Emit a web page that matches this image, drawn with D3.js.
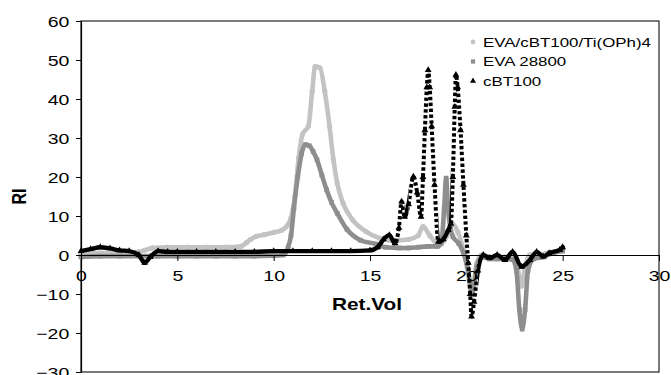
<!DOCTYPE html>
<html>
<head>
<meta charset="utf-8">
<script src="https://cdn.jsdelivr.net/npm/d3@7"></script>
<style>
  html, body { margin: 0; padding: 0; background: #fff; }
  svg { display: block; font-family: "Liberation Sans", Arial, sans-serif; }
</style>
</head>
<body>
<svg id="chart" width="671" height="375"></svg>
<script>
// GPC traces: retention volume (mL) vs refractive index signal
const evaTiVol = [0, 1, 2, 3, 3.3, 3.7, 4.5, 5.5, 6.5, 7.5, 8.3, 8.6, 8.8, 9.1, 9.5, 10.0, 10.4, 10.7, 10.9, 11.1,
  11.3, 11.5, 11.8, 12.0, 12.15, 12.4, 12.65, 12.9, 13.1, 13.3, 13.6, 14.1, 14.8, 15.5, 16.0, 16.5, 17.0, 17.5, 17.75, 18.1,
  18.4, 18.8, 19.0, 19.25, 19.55, 19.85, 20.05, 20.3, 20.55, 20.8, 21.2, 21.6, 22.0, 22.4, 22.65, 22.85, 23.05, 23.3, 23.7, 24.2,
  24.6, 25.0];
const evaTiRI = [0.3, 0.5, 0.5, 0.8, 1.2, 1.8, 2, 2, 2, 2, 2.2, 3.2, 4, 4.8, 5.2, 5.8, 6.3, 7.5, 9.5, 15,
  25, 31, 33, 42, 48.3, 48, 42, 33, 24.5, 18.4, 13.3, 9, 6, 4.3, 3.8, 3.8, 4, 5, 7.3, 5,
  3.4, 3.5, 5, 8.1, 6, 1.3, -3, -9, -2, 0, -0.5, -0.5, -0.5, -0.5, -3, -8, -3, 0, 0, 0.5,
  0.8, 1.3];

const evaVol = [0, 1, 2, 3, 4, 5, 6, 7, 8, 9, 10, 10.5, 10.75, 10.9, 11.05, 11.25, 11.45, 11.65, 11.85, 12.05,
  12.25, 12.5, 12.75, 13.0, 13.3, 13.8, 14.5, 15.3, 15.8, 16.5, 17.0, 17.5, 18.0, 18.5, 18.7, 18.85, 18.95, 19.05, 19.3, 19.6,
  19.85, 20.05, 20.3, 20.55, 20.8, 21.2, 21.6, 22.0, 22.4, 22.6, 22.75, 22.9, 23.05, 23.2, 23.5, 24.0, 24.5, 25.0];
const evaRI = [-0.5, -0.3, -0.3, -0.3, -0.3, -0.3, -0.3, -0.3, -0.3, -0.3, -0.2, 0, 2, 5, 12, 20, 26, 28.3, 28, 26.5,
  24.4, 20.5, 16.7, 13.5, 10.7, 6.6, 3.8, 2.8, 2, 1.8, 1.8, 2, 2.2, 2.2, 3, 12, 19.7, 12, 4.7, 3,
  0.5, -3, -10, -3, -0.5, -1, -1, -1, -1.2, -4, -14, -19, -14, -4, -1, -0.5, 0.5, 1];

const cbtVol = [0, 0.5, 1, 1.5, 2, 2.5, 3, 3.3, 3.6, 4, 4.5, 5, 6, 7, 8, 9, 10, 11, 12, 13,
  14, 15, 15.4, 15.7, 16.0, 16.3, 16.5, 16.64, 16.8, 17.0, 17.25, 17.45, 17.65, 17.75, 17.85, 17.95, 18.02, 18.1, 18.2, 18.35,
  18.55, 18.8, 19.06, 19.2, 19.3, 19.4, 19.46, 19.55, 19.7, 19.85, 20.0, 20.1, 20.2, 20.27, 20.4, 20.6, 20.88, 21.2, 21.6, 22.0,
  22.4, 22.87, 23.3, 23.65, 24.0, 24.3, 24.85, 25.0];
const cbtRI = [1, 1.5, 2, 1.7, 1.2, 1, 0, -2, -0.5, 1, 0.8, 0.8, 0.8, 0.8, 0.8, 0.8, 1, 1, 1, 1,
  1, 1.2, 2, 4, 5.1, 3, 7, 13.7, 9.8, 13, 20.1, 16, 9.8, 20, 32, 43, 47.4, 43, 33, 18,
  3.4, 4, 6.4, 8, 20, 38, 46.2, 43, 32, 18, 5, -2, -10, -15.8, -12, -4, 0, -0.8, 0, -1.3,
  0.8, -3, -1.3, 0.8, -0.4, 0.5, 1.3, 2];

const seriesNames = ["EVA/cBT100/Ti(OPh)4", "EVA 28800", "cBT100"];
const xTicks = [0, 5, 10, 15, 20, 25, 30];
const yTicks = [-30, -20, -10, 0, 10, 20, 30, 40, 50, 60];

const series = [
  { name: seriesNames[0], vol: evaTiVol, ri: evaTiRI, color: "#c3c3c3", shape: d3.symbolCircle, size: 22, sparse: false },
  { name: seriesNames[1], vol: evaVol, ri: evaRI, color: "#8e8e8e", shape: d3.symbolSquare, size: 22, sparse: false },
  { name: seriesNames[2], vol: cbtVol, ri: cbtRI, color: "#000000", shape: d3.symbolTriangle, size: 20, sparse: true }
];

const SX = 1.3; // horizontal stretch of the lettering
const svg = d3.select("#chart");
const defs = svg.append("defs");
const plot = { left: 81, right: 659, top: 21, bottom: 372 };

const x = d3.scaleLinear().domain([0, 30]).range([plot.left, plot.right]);
const y = d3.scaleLinear().domain([-30, 60]).range([plot.bottom, plot.top]);

// plot frame
svg.append("rect")
  .attr("x", plot.left).attr("y", plot.top)
  .attr("width", plot.right - plot.left).attr("height", plot.bottom - plot.top)
  .attr("fill", "none").attr("stroke", "#222").attr("stroke-width", 1.2);

// x-ranges where a trace climbs so fast that its markers separate into a dotted column
function steepRanges(vol, ri) {
  const out = [];
  for (let i = 0; i < vol.length - 1; i++) {
    const dxp = x(vol[i + 1]) - x(vol[i]);
    const dyp = Math.abs(y(ri[i + 1]) - y(ri[i]));
    if (dyp > 4 * dxp && dyp > 12) {
      const last = out[out.length - 1];
      if (last && last[1] === vol[i]) last[1] = vol[i + 1];
      else out.push([vol[i], vol[i + 1]]);
    }
  }
  return out;
}

function addClip(id, ranges) {
  const cp = defs.append("clipPath").attr("id", id);
  ranges.forEach(r => cp.append("rect")
    .attr("x", x(r[0])).attr("y", 0)
    .attr("width", Math.max(0, x(r[1]) - x(r[0]))).attr("height", 375));
}

// traces
const line = d3.line().x(d => x(d[0])).y(d => y(d[1])).curve(d3.curveMonotoneX);
series.forEach((s, si) => {
  const pts = d3.zip(s.vol, s.ri);
  const g = svg.append("g");
  const d = line(pts);
  if (s.sparse) {
    const steep = steepRanges(s.vol, s.ri);
    const flat = [];
    let start = 0;
    steep.forEach(r => { flat.push([start, r[0]]); start = r[1]; });
    flat.push([start, 30]);
    addClip(`steep${si}`, steep);
    addClip(`flat${si}`, flat);
    g.append("path")
      .attr("d", d).attr("clip-path", `url(#flat${si})`)
      .attr("fill", "none").attr("stroke", s.color).attr("stroke-width", 4.4)
      .attr("stroke-linejoin", "round").attr("stroke-linecap", "round");
    g.append("path")
      .attr("d", d).attr("clip-path", `url(#steep${si})`)
      .attr("fill", "none").attr("stroke", s.color).attr("stroke-width", 4)
      .attr("stroke-dasharray", "3.4,2.4");
  } else {
    g.append("path")
      .attr("d", d)
      .attr("fill", "none").attr("stroke", s.color).attr("stroke-width", 4.6)
      .attr("stroke-linejoin", "round").attr("stroke-linecap", "round");
  }
  g.selectAll("path.m").data(pts).join("path")
    .attr("class", "m")
    .attr("d", d3.symbol().type(s.shape).size(s.size))
    .attr("transform", p => `translate(${x(p[0])},${y(p[1])})`)
    .attr("fill", s.color);
});

// x axis through RI = 0
const xAxis = svg.append("g")
  .attr("transform", `translate(0,${y(0)})`)
  .call(d3.axisBottom(x).tickValues(xTicks).tickSize(6).tickSizeOuter(0));
xAxis.select(".domain").attr("stroke", "#000").attr("stroke-width", 1.2);
xAxis.selectAll(".tick line").attr("stroke", "#000");
xAxis.selectAll(".tick text")
  .attr("y", 26).attr("dy", null)
  .attr("transform", `scale(${SX},1)`)
  .attr("font-size", 15).attr("fill", "#000")
  .attr("font-family", "Liberation Sans, Arial, sans-serif");

// y axis
const yAxis = svg.append("g")
  .attr("transform", `translate(${plot.left},0)`)
  .call(d3.axisLeft(y).tickValues(yTicks).tickSize(5).tickSizeOuter(0));
yAxis.select(".domain").attr("stroke", "#000").attr("stroke-width", 1.2);
yAxis.selectAll(".tick line").attr("stroke", "#000");
yAxis.selectAll(".tick text")
  .attr("x", -9).attr("dy", "0.36em")
  .attr("transform", `scale(${SX},1)`)
  .attr("font-size", 15).attr("fill", "#000")
  .attr("font-family", "Liberation Sans, Arial, sans-serif");

// axis titles
svg.append("text")
  .attr("transform", `translate(${(plot.left + plot.right) / 2 - 3},310) scale(${SX},1)`)
  .attr("text-anchor", "middle").attr("font-size", 16).attr("font-weight", "bold")
  .text("Ret.Vol");
svg.append("text")
  .attr("transform", `translate(26,${(plot.top + plot.bottom) / 2}) rotate(-90) scale(1,${SX})`)
  .attr("text-anchor", "middle").attr("font-size", 16).attr("font-weight", "bold")
  .text("RI");

// legend
const legend = svg.append("g").attr("transform", "translate(473,42)");
series.forEach((s, i) => {
  const row = legend.append("g").attr("transform", `translate(0,${i * 19.5})`);
  row.append("path")
    .attr("d", d3.symbol().type(s.shape).size(s.shape === d3.symbolTriangle ? 16 : 18))
    .attr("fill", s.color);
  row.append("text")
    .attr("transform", `translate(10,4.6) scale(${SX},1)`)
    .attr("font-size", 13).attr("fill", "#000")
    .text(s.name);
});
</script>
</body>
</html>
